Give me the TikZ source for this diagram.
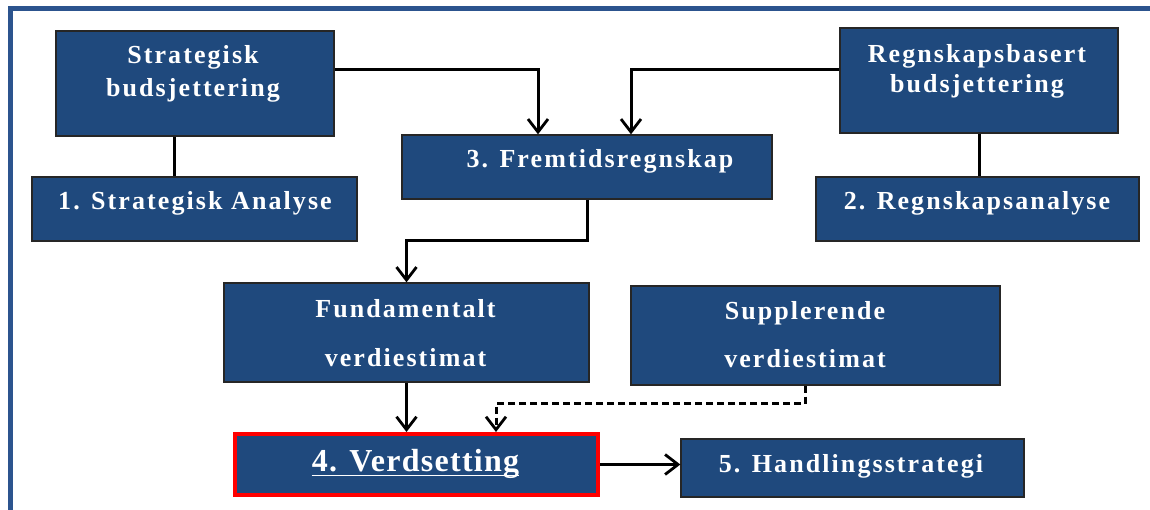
\documentclass[tikz,border=0pt]{standalone}
\usepackage{fontspec}
\setmainfont{Liberation Serif}
\usetikzlibrary{arrows.meta}
\definecolor{boxblue}{RGB}{31,73,125}
\definecolor{framblue}{RGB}{44,84,142}
\tikzset{
  stepbox/.style={draw=black!85, line width=1.3pt, fill=boxblue, inner sep=0pt},
  boxtxt/.style={text=white, inner sep=0pt, anchor=base, align=center,
    font=\fontsize{26}{30}\selectfont\bfseries\addfontfeature{LetterSpace=8}},
  bigtxt/.style={text=white, inner sep=0pt, anchor=base,
    font=\fontsize{32}{38}\selectfont\bfseries\addfontfeature{LetterSpace=4}},
  link/.style={line width=3pt, draw=black},
  arr/.style={link, -{Straight Barb[length=13pt,width=20pt,line width=2.8pt]}},
}
\begin{document}
\begin{tikzpicture}[x=1pt,y=-1pt]
\useasboundingbox (0,0) rectangle (1150,510);
% outer frame
\draw[framblue, line width=5pt] (10,520) -- (10,9) -- (1160,9);

% boxes
\node[stepbox, minimum width=278, minimum height=105] (sb) at (195,83.5) {};
\node[stepbox, minimum width=325, minimum height=64] (sa) at (194.5,209) {};
\node[stepbox, minimum width=370, minimum height=64] (fr) at (587,167) {};
\node[stepbox, minimum width=278, minimum height=105] (rb) at (979,80.5) {};
\node[stepbox, minimum width=323, minimum height=64] (ra) at (977.5,209) {};
\node[stepbox, minimum width=365, minimum height=99] (fu) at (406.5,332.5) {};
\node[stepbox, minimum width=369, minimum height=99] (su) at (815.5,335.5) {};
\node[stepbox, draw=red, line width=4pt, minimum width=363, minimum height=61] (vd) at (416.5,464.5) {};
\node[stepbox, minimum width=343, minimum height=58] (hs) at (852.5,468) {};

% texts (anchor base = baseline of the last line)
\node[boxtxt] (sbt) at (193,97) {Strategisk\\[3pt]budsjettering};
\node[boxtxt] (sat) at (195,210) {1. Strategisk Analyse};
\node[boxtxt] (frt) at (600,168) {3. Fremtidsregnskap};
\node[boxtxt] (rbt) at (977,93) {Regnskapsbasert\\[0pt]budsjettering};
\node[boxtxt] (rat) at (977,210) {2. Regnskapsanalyse};
\node[boxtxt] (fut) at (405.5,366) {Fundamentalt\\[19pt]verdiestimat};
\node[boxtxt] (sut) at (805,367) {Supplerende\\[18pt]verdiestimat};
\node[bigtxt] (vdt) at (415.5,471) {4. Verdsetting};
\draw[white, line width=1.8pt] ([yshift=-4.5pt]vdt.base west) -- ([yshift=-4.5pt]vdt.base east);
\node[boxtxt] (hst) at (851,472) {5. Handlingsstrategi};

% connectors
\draw[arr] ([yshift=13.5pt]sb.east) -| ([xshift=-49pt]fr.north);
\draw[arr] ([yshift=10.5pt]rb.west) -| ([xshift=44pt]fr.north);
\draw[link] ([xshift=-21pt]sb.south) -- ([xshift=-21pt]sb.south |- sa.north);
\draw[link] (rb.south) -- (rb.south |- ra.north);
\draw[arr] (fr.south) -- ++(0,41) -| (fu.north);
\draw[arr] (fu.south) -- (fu.south |- vd.north);
\draw[arr, dash pattern=on 7pt off 4pt] ([xshift=-10.5pt]su.south) -- ++(0,18) -| ([xshift=79.5pt]vd.north);
\draw[arr] (vd.east) -- (vd.east -| hs.west);
\end{tikzpicture}
\end{document}
